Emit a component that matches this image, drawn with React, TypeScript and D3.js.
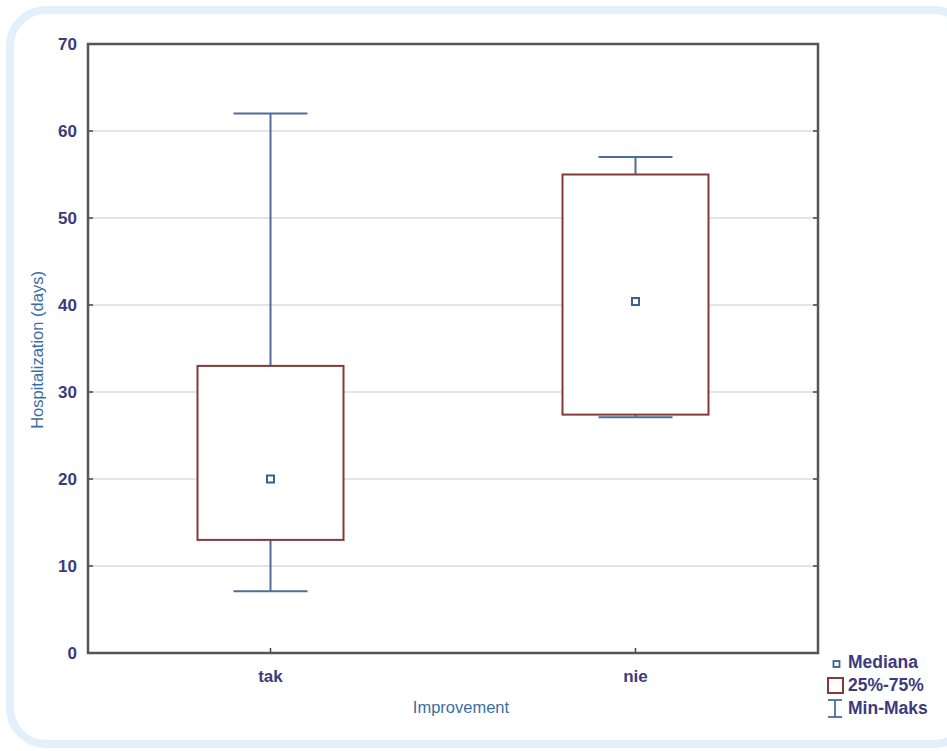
import React from "react";
import * as d3 from "d3";

const categories = ["tak", "nie"];
const mins = [7.1, 27.1];
const q1s = [13, 27.4];
const medians = [20, 40.4];
const q3s = [33, 55];
const maxs = [62, 57];
const yTicks = [0, 10, 20, 30, 40, 50, 60, 70];
const legendLabels = ["Mediana", "25%-75%", "Min-Maks"];

const W = 947, H = 751;
const left = 88, right = 818, top = 44, bottom = 653;
const boxColor = "#84393a";
const whiskerColor = "#4f6d99";
const labelColor = "#3b3b7d";
const titleColor = "#3a6ea5";

export default function App() {
  const x = d3.scalePoint<string>().domain(categories).range([left, right]).padding(0.5);
  const y = d3.scaleLinear().domain([0, 70]).range([bottom, top]);
  const boxHalf = 73;
  const capHalf = 37;
  return (
    <svg width={W} height={H} style={{ position: "absolute", left: 0, top: 0, fontFamily: "Liberation Sans, Arial, sans-serif" }}>
      <rect x={0} y={0} width={W} height={H} fill="#fff" />
      <rect x={10} y={10} width={960} height={734} rx={36} ry={36} fill="#fff" stroke="#e1f0fb" strokeWidth={8} />
      {yTicks.map((t) => (
        <g key={t}>
          {t > 0 && t < 70 && <line x1={left} x2={right} y1={y(t)} y2={y(t)} stroke="#dcdcdc" strokeWidth={1.5} />}
          <line x1={left} x2={left + 5} y1={y(t)} y2={y(t)} stroke="#444" strokeWidth={1.5} />
          <line x1={right - 5} x2={right} y1={y(t)} y2={y(t)} stroke="#444" strokeWidth={1.5} />
          <text x={77} y={y(t)} dy="0.36em" textAnchor="end" fontSize={17} fontWeight="bold" fill={labelColor}>{t}</text>
        </g>
      ))}
      {categories.map((c, i) => {
        const cx = x(c)!;
        return (
          <g key={c}>
            <line x1={cx} x2={cx} y1={y(maxs[i])} y2={y(q3s[i])} stroke={whiskerColor} strokeWidth={2} />
            <line x1={cx} x2={cx} y1={y(q1s[i])} y2={y(mins[i])} stroke={whiskerColor} strokeWidth={2} />
            <line x1={cx - capHalf} x2={cx + capHalf} y1={y(maxs[i])} y2={y(maxs[i])} stroke={whiskerColor} strokeWidth={2} />
            <line x1={cx - capHalf} x2={cx + capHalf} y1={y(mins[i])} y2={y(mins[i])} stroke={whiskerColor} strokeWidth={2} />
            <rect x={cx - boxHalf} y={y(q3s[i])} width={boxHalf * 2} height={y(q1s[i]) - y(q3s[i])} fill="#fff" stroke={boxColor} strokeWidth={2} />
            <rect x={cx - 3.5} y={y(medians[i]) - 3.5} width={7} height={7} fill="#fff" stroke="#3e5f8f" strokeWidth={2} />
            <line x1={cx} x2={cx} y1={bottom} y2={bottom - 5} stroke="#444" strokeWidth={1.5} />
            <text x={cx} y={682} textAnchor="middle" fontSize={17} fontWeight="bold" fill={labelColor}>{c}</text>
          </g>
        );
      })}
      <rect x={left} y={top} width={right - left} height={bottom - top} fill="none" stroke="#555" strokeWidth={2.5} />
      <text transform={`translate(43,350) rotate(-90)`} textAnchor="middle" fontSize={16.5} fill={titleColor}>Hospitalization (days)</text>
      <text x={461} y={713} textAnchor="middle" fontSize={16.5} fill={titleColor}>Improvement</text>
      <g>
        <rect x={833.5} y={661} width={6} height={6} fill="#fff" stroke="#3e5f8f" strokeWidth={1.8} />
        <rect x={828} y={678} width={15} height={15} fill="#fff" stroke={boxColor} strokeWidth={2} />
        <line x1={828} x2={842} y1={700} y2={700} stroke={whiskerColor} strokeWidth={1.8} />
        <line x1={835} x2={835} y1={700} y2={717} stroke={whiskerColor} strokeWidth={1.8} />
        <line x1={828} x2={842} y1={717} y2={717} stroke={whiskerColor} strokeWidth={1.8} />
        {legendLabels.map((l, i) => (
          <text key={l} x={848} y={668 + i * 23} fontSize={17.5} fontWeight="bold" fill={labelColor}>{l}</text>
        ))}
      </g>
    </svg>
  );
}
